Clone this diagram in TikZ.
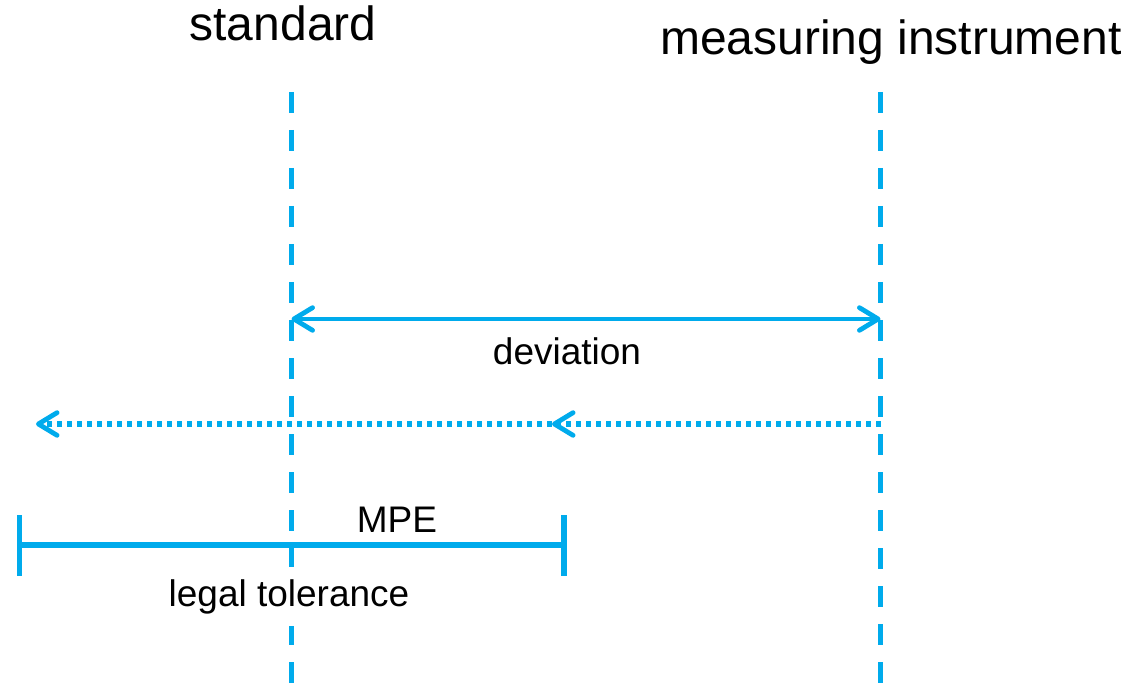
\documentclass[tikz,border=0pt]{standalone}
\usepackage{fontspec}
\setmainfont{Liberation Sans}
\usetikzlibrary{arrows.meta}
\definecolor{lineblue}{RGB}{0,171,236}
\tikzset{
  bigtext/.style={inner sep=0pt, anchor=base, font=\fontsize{36}{40}\selectfont},
  smalltext/.style={inner sep=0pt, anchor=base, font=\fontsize{27.75}{32}\selectfont},
  guide/.style={draw=lineblue, line width=4pt, dash pattern=on 16pt off 12.5pt},
  barb/.tip={Straight Barb[length=14pt, width=17pt, line width=3.6pt, round]},
  devarrow/.style={draw=lineblue, line width=3.6pt, {barb}-{barb}},
  dotarrow/.style={draw=lineblue, line width=3.8pt, dash pattern=on 3.75pt off 3.75pt, -{barb}},
  mpebar/.style={draw=lineblue, line width=3.8pt},
}
\begin{document}
\begin{tikzpicture}[x=0.75pt,y=-0.75pt]
\useasboundingbox (0,0) rectangle (1128,684);
% guide lines
\coordinate (sTop) at (291.5,92);
\coordinate (sBot) at (291.5,684);
\coordinate (mTop) at (880.5,92);
\coordinate (mBot) at (880.5,684);
\draw[guide] (sTop) -- (sBot);
\draw[guide] (mTop) -- (mBot);
% titles
\node[bigtext] (std) at (283,41) {standard};
\node[bigtext] (mi) at (891,55) {measuring instrument};
% deviation
\coordinate (devL) at (291.5,319);
\coordinate (devR) at (880.5,319);
\draw[devarrow] (devL) -- (devR);
\node[smalltext] (dev) at (567,364) {deviation};
% dotted arrow
\coordinate (dotR) at (880.5,424);
\coordinate (dotM) at (552,424);
\coordinate (dotL) at (36,424);
\draw[dotarrow] (dotR) -- (dotM);
\draw[dotarrow] (dotM) -- (dotL);
% MPE bar
\coordinate (mpeL) at (19.5,545);
\coordinate (mpeR) at (564,545);
\coordinate (mpeLt) at (19.5,515);
\coordinate (mpeLb) at (19.5,576);
\coordinate (mpeRt) at (564,515);
\coordinate (mpeRb) at (564,576);
\draw[mpebar] (mpeL) -- (mpeR);
\draw[mpebar] (mpeLt) -- (mpeLb);
\draw[mpebar] (mpeRt) -- (mpeRb);
\node[smalltext] (mpe) at (397,532) {MPE};
\node[smalltext, fill=white, inner ysep=9.5pt, inner xsep=3pt] (tol) at (289,606) {legal tolerance};
\end{tikzpicture}
\end{document}
